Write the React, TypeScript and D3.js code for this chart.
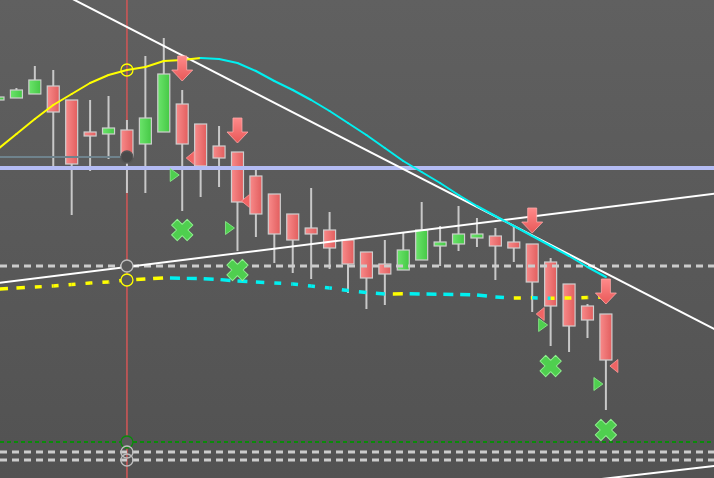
import { scaleLinear, select } from "d3";
import { useEffect, useRef } from "react";

const WIDTH = 714;
const HEIGHT = 478;

// bars, oldest first (index 0 is cut by the left edge)
const opens = [1.14, 1.1402, 1.1406, 1.1414, 1.14, 1.1368, 1.1366, 1.137, 1.1356, 1.1368, 1.1396, 1.1376, 1.1354, 1.1348, 1.1324, 1.1306, 1.1286, 1.1272, 1.127, 1.126, 1.1248, 1.1236, 1.123, 1.124, 1.1254, 1.1256, 1.1262, 1.1264, 1.1258, 1.1256, 1.1238, 1.1216, 1.1194, 1.1186];
const highs = [1.1403, 1.1412, 1.1434, 1.143, 1.14, 1.14, 1.1404, 1.138, 1.1444, 1.1462, 1.141, 1.1376, 1.1374, 1.1348, 1.133, 1.1306, 1.1286, 1.1312, 1.1288, 1.126, 1.1248, 1.126, 1.1267, 1.1298, 1.1274, 1.1294, 1.1282, 1.1272, 1.1274, 1.1256, 1.1242, 1.1216, 1.1196, 1.1186];
const lows = [1.14, 1.1402, 1.1406, 1.1334, 1.1285, 1.1329, 1.1341, 1.1307, 1.1307, 1.1368, 1.1289, 1.1303, 1.1313, 1.1249, 1.1263, 1.1237, 1.1227, 1.1221, 1.1231, 1.1207, 1.1191, 1.1195, 1.123, 1.124, 1.1234, 1.1249, 1.1253, 1.122, 1.1238, 1.1188, 1.1154, 1.1148, 1.1162, 1.109];
const closes = [1.1403, 1.141, 1.142, 1.1388, 1.1336, 1.1364, 1.1372, 1.1343, 1.1382, 1.1426, 1.1356, 1.1334, 1.1342, 1.1298, 1.1286, 1.1266, 1.126, 1.1266, 1.1252, 1.1236, 1.1222, 1.1226, 1.125, 1.127, 1.1258, 1.1266, 1.1266, 1.1254, 1.1252, 1.1218, 1.1194, 1.1174, 1.118, 1.114];

// moving averages: solid (fast) and dashed (slow)
const maSolid = [1.1351, 1.1366, 1.1381, 1.1395, 1.1406, 1.1417, 1.1425, 1.143, 1.1433, 1.1439, 1.144, 1.1442, 1.1441, 1.1437, 1.1429, 1.1419, 1.141, 1.14, 1.1389, 1.1377, 1.1365, 1.1352, 1.1339, 1.1328, 1.1317, 1.1305, 1.1294, 1.1284, 1.1274, 1.1264, 1.1254, 1.1244, 1.1233, 1.1223];
const maDashed = [1.1211, 1.1212, 1.1213, 1.1214, 1.12155, 1.1217, 1.1218, 1.122, 1.1221, 1.1222, 1.12217, 1.12214, 1.12205, 1.1219, 1.1218, 1.1217, 1.1216, 1.1214, 1.1212, 1.12095, 1.12075, 1.1206, 1.12062, 1.1206, 1.12058, 1.12055, 1.1205, 1.1203, 1.1202, 1.12022, 1.12018, 1.1202, 1.12024, 1.1203];

// trend lines: [bar, price, bar, price]
const descLine = [9, 1.14541, 33, 1.12267];
const ascLine = [7, 1.1233, 27, 1.1279];
const lowerLine = [33, 1.10215, 39, 1.10343];

// horizontal levels
const blueLevel = 1.1332;
const stopLevel = 1.1343;
const dashedLevel = 1.1234;
const greenLevel = 1.1058;
const lowerLevels = [1.1048, 1.104];

const cursorBar = 7;

// signal markers
const arrowBars = [10, 13, 29, 33];
const arrowPrices = [1.1419, 1.1357, 1.1267, 1.1196];
const redTriBars = [10, 13, 29, 33];
const redTriPrices = [1.1342, 1.1299, 1.1186, 1.1134];
const greenTriBars = [10, 13, 30, 33];
const greenTriPrices = [1.1325, 1.1272, 1.1175, 1.1116];
const crossBars = [10, 13, 30, 33];
const crossPrices = [1.127, 1.123, 1.1134, 1.107];

const YELLOW = "#ffff00";
const CYAN = "#00f0f0";
const BG = "#595959";

export default function App() {
  const svgRef = useRef<SVGSVGElement | null>(null);

  useEffect(() => {
    if (!svgRef.current) return;
    const svg = select(svgRef.current);
    svg.selectAll("*").remove();

    const x = scaleLinear().domain([0, 33]).range([-2, 605.9]);
    const y = scaleLinear().domain([1.1022, 1.15]).range([HEIGHT, 0]);

    const defs = svg.append("defs");
    const grad = (id: string, stops: string[], vertical = false) => {
      const g = defs
        .append("linearGradient")
        .attr("id", id)
        .attr("x1", 0)
        .attr("y1", 0)
        .attr("x2", vertical ? 0 : 1)
        .attr("y2", vertical ? 1 : 0);
      stops.forEach((c, i) =>
        g.append("stop").attr("offset", i / (stops.length - 1)).attr("stop-color", c)
      );
    };
    grad("bg", ["#606060", "#525252"], true);
    grad("bull", ["#6be46b", "#45c845"]);
    grad("bear", ["#f88a8a", "#e25e5e"]);
    grad("arrow", ["#ff8a8a", "#e85858"], true);

    svg.append("rect").attr("width", WIDTH).attr("height", HEIGHT).attr("fill", "url(#bg)");

    // cursor
    svg
      .append("line")
      .attr("x1", x(cursorBar))
      .attr("x2", x(cursorBar))
      .attr("y1", 0)
      .attr("y2", HEIGHT)
      .attr("stroke", "#cc5656")
      .attr("stroke-width", 1.6);

    // candles
    const bars = opens.map((o, i) => ({ i, o, h: highs[i], l: lows[i], c: closes[i] }));
    const candles = svg.append("g");
    candles
      .selectAll("line")
      .data(bars)
      .join("line")
      .attr("x1", (d) => x(d.i))
      .attr("x2", (d) => x(d.i))
      .attr("y1", (d) => y(d.h))
      .attr("y2", (d) => y(d.l))
      .attr("stroke", "#c8c8c8")
      .attr("stroke-width", 2);
    candles
      .selectAll("rect")
      .data(bars)
      .join("rect")
      .attr("x", (d) => x(d.i) - 6)
      .attr("width", 12)
      .attr("y", (d) => y(Math.max(d.o, d.c)))
      .attr("height", (d) => Math.max(1.5, Math.abs(y(d.o) - y(d.c))))
      .attr("fill", (d) => (d.c >= d.o ? "url(#bull)" : "url(#bear)"))
      .attr("stroke", "#cfcfcf")
      .attr("stroke-width", 1.2);

    // horizontal levels
    const hline = (p: number, color: string, w: number, dash?: string, x2 = WIDTH) => {
      const l = svg
        .append("line")
        .attr("x1", 0)
        .attr("x2", x2)
        .attr("y1", y(p))
        .attr("y2", y(p))
        .attr("stroke", color)
        .attr("stroke-width", w);
      if (dash) l.attr("stroke-dasharray", dash);
    };
    hline(blueLevel, "#b4bcf4", 4);
    hline(stopLevel, "#6f838d", 2, undefined, x(cursorBar));
    hline(dashedLevel, "#cccccc", 3, "7 5");
    hline(greenLevel, "#0a8a0a", 2, "4 3");
    lowerLevels.forEach((p) => hline(p, "#cccccc", 3, "7 5"));

    // trend lines, extended across the view
    [descLine, ascLine, lowerLine].forEach(([b1, p1, b2, p2]) => {
      const x1 = x(b1);
      const y1 = y(p1);
      const k = (y(p2) - y1) / (x(b2) - x1);
      svg
        .append("line")
        .attr("x1", -10)
        .attr("y1", y1 + k * (-10 - x1))
        .attr("x2", WIDTH + 10)
        .attr("y2", y1 + k * (WIDTH + 10 - x1))
        .attr("stroke", "#ffffff")
        .attr("stroke-width", 2);
    });

    // moving averages, each step coloured by direction (yellow up, cyan down)
    const drawMa = (vals: number[], width: number, dash?: string) => {
      const g = svg.append("g");
      let run = 0;
      for (let k = 0; k < vals.length - 1; k++) {
        const x1 = x(k);
        const y1 = y(vals[k]);
        const x2 = x(k + 1);
        const y2 = y(vals[k + 1]);
        const seg = g
          .append("line")
          .attr("x1", x1)
          .attr("y1", y1)
          .attr("x2", x2)
          .attr("y2", y2)
          .attr("stroke", vals[k + 1] >= vals[k] ? YELLOW : CYAN)
          .attr("stroke-width", width);
        if (dash) seg.attr("stroke-dasharray", dash).attr("stroke-dashoffset", -run);
        else seg.attr("stroke-linecap", "round");
        run += Math.hypot(x2 - x1, y2 - y1);
      }
    };
    drawMa(maSolid, 2);
    drawMa(maDashed, 3.5, "10 10");

    // sell arrows
    const arrowPath = "M-4.5,-25H4.5V-11H10.5L0,0L-10.5,-11H-4.5Z";
    svg
      .append("g")
      .selectAll("path")
      .data(arrowBars)
      .join("path")
      .attr("transform", (b, i) => `translate(${x(b)},${y(arrowPrices[i])})`)
      .attr("d", arrowPath)
      .attr("fill", "url(#arrow)")
      .attr("stroke", "#ffa8a8")
      .attr("stroke-width", 0.8);

    svg
      .append("g")
      .selectAll("path")
      .data(redTriBars)
      .join("path")
      .attr("transform", (b, i) => `translate(${x(b)},${y(redTriPrices[i])})`)
      .attr("d", "M4,0L12,-6.5V6.5Z")
      .attr("fill", "#f06464")
      .attr("stroke", "#ff9a9a")
      .attr("stroke-width", 0.8);

    svg
      .append("g")
      .selectAll("path")
      .data(greenTriBars)
      .join("path")
      .attr("transform", (b, i) => `translate(${x(b)},${y(greenTriPrices[i])})`)
      .attr("d", "M-3,0L-12,-6.5V6.5Z")
      .attr("fill", "#4fcf4f")
      .attr("stroke", "#8ef08e")
      .attr("stroke-width", 0.8);

    const crossPath = "M-4,-11H4V-4H11V4H4V11H-4V4H-11V-4H-4Z";
    svg
      .append("g")
      .selectAll("path")
      .data(crossBars)
      .join("path")
      .attr("transform", (b, i) => `translate(${x(b)},${y(crossPrices[i])}) rotate(45)`)
      .attr("d", crossPath)
      .attr("fill", "#4fcf4f")
      .attr("stroke", "#8ef08e")
      .attr("stroke-width", 1)
      .attr("stroke-linejoin", "round");

    // cursor handles
    const cx = x(cursorBar);
    const handle = (p: number, stroke: string, fill: string) =>
      svg
        .append("circle")
        .attr("cx", cx)
        .attr("cy", y(p))
        .attr("r", 6)
        .attr("fill", fill)
        .attr("stroke", stroke)
        .attr("stroke-width", 1.3);
    handle(maSolid[cursorBar], YELLOW, "none");
    handle(stopLevel, "#555", "#4a4a4a");
    handle(dashedLevel, "#bdbdbd", BG);
    handle(maDashed[cursorBar], YELLOW, BG);
    handle(greenLevel, "#0a8a0a", BG);
    lowerLevels.forEach((p) => handle(p, "#bdbdbd", "none"));
  }, []);

  return (
    <div style={{ position: "absolute", left: 0, top: 0 }}>
      <svg ref={svgRef} width={WIDTH} height={HEIGHT} style={{ display: "block" }} />
    </div>
  );
}
